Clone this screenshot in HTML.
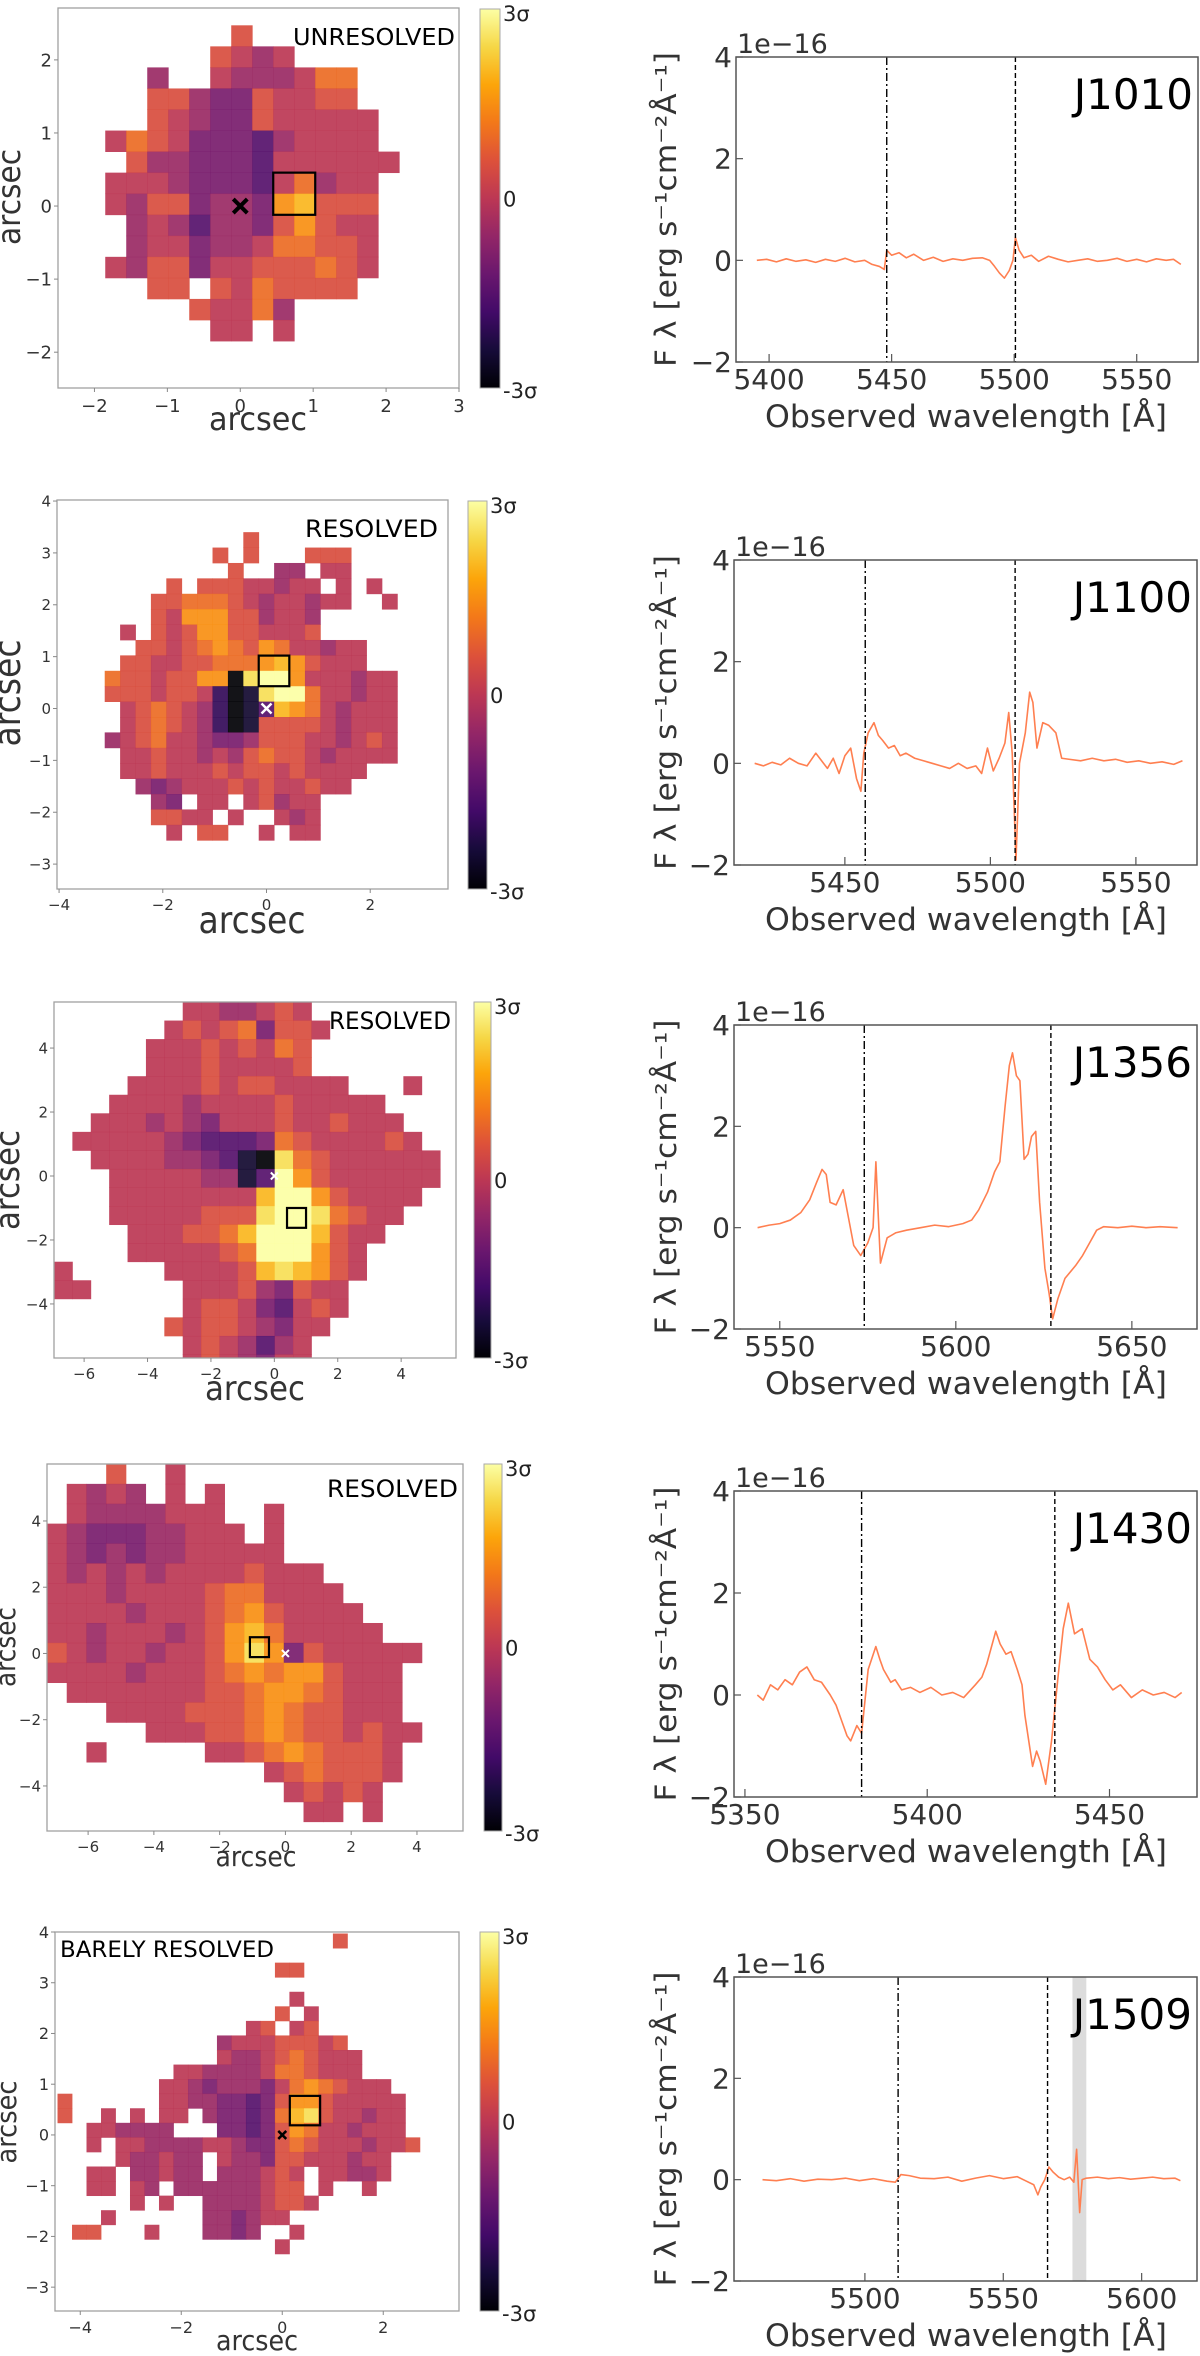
<!DOCTYPE html>
<html><head><meta charset="utf-8"><title>Residual maps and spectra</title>
<style>
html,body{margin:0;padding:0;background:#fff;}
svg{display:block;font-family:"DejaVu Sans","Liberation Sans",sans-serif;}
</style></head>
<body>
<svg id="fig" width="1200" height="2356" viewBox="0 0 1200 2356" xmlns="http://www.w3.org/2000/svg">
<defs>
<linearGradient id="cbgrad" x1="0" y1="1" x2="0" y2="0">
<stop offset="0" stop-color="#000004"/><stop offset="0.1" stop-color="#160b39"/><stop offset="0.2" stop-color="#420a68"/><stop offset="0.3" stop-color="#6a176e"/><stop offset="0.4" stop-color="#932667"/><stop offset="0.5" stop-color="#bc3754"/><stop offset="0.6" stop-color="#dd513a"/><stop offset="0.7" stop-color="#f37819"/><stop offset="0.8" stop-color="#fca50a"/><stop offset="0.9" stop-color="#f6d746"/><stop offset="1" stop-color="#fcffa4"/>
</linearGradient>
</defs>
</svg>
<script>
// ---------- heatmap data (A=-3σ ... G=0 ... M=+3σ, '.'=no data) ----------
const grid1010 = [
"......H........",
".....HGFG......",
"..F..GFFFGII...",
"..HHFEEHGGHH...",
"..HGFEEHGGGGG..",
"GIHGEEEDFGGGG..",
".HFFEEEDGGGGGG.",
"GGGFEEEDGIFGG..",
"GFHHEFFEJKHHH..",
".FGFDFFEHJHGG..",
".FGGEFFGIIHHG..",
"GFHHEGGHHHIHG..",
"..HH.HGIHHHH...",
"....HGGIF......",
".....GG.G......"];
const grid1100 = [
".........H.........",
".......H.H...HHH...",
"........H..FF.GG...",
"....H.HHHGGFGG.G.G.",
"...HHIIIHGFGGFGG..G",
"...HGJJJHHFGGF.....",
".G.HGHJJHHGGGH.....",
"..HHGHIJIHJIGGFGG..",
".HHGGHHIIIJKJHGGG..",
"IHHGHHJJALMMJGGGFGG",
"HHHGHHGCABLMMIGGFGG",
".GHIHGFCABDKJIGFGGG",
".GHIHGFCABHHHHGFGGG",
"FGHIGGFEEFHHHGGFGHG",
".GGHGGFGFHIHHGFGGGG",
".GGHGGGHGHHGHGGGG..",
"..FEFGGGHGHGGHGG...",
"...FE.GG.GHFGG.....",
"...HHGG.G..GFG.....",
"....G.HH..G.GG....."];
const grid1356 = [
".......GGFFGHG........",
"......GHGHIEHHG.......",
".....GGGHGHGIH........",
".....GGGHGGGGH........",
"....GGGGHGHHGGGG...G..",
"...GGGGFGGGGHGGGGG....",
"..GGGFGFEGGGHGGHGGG...",
".GGGGGFEDDDEIHGGGGHG..",
"..GGGGFFEDBALIHGGGGGG.",
"...GGGGGFFBDMJHGGGGGG.",
"...GGGGGGGGKMMJHGGGG..",
"...GGGGGHHHLMMLIHGG...",
"....GGGHHIKMMMKHGG....",
"....GGGGGHIMMMJHG.....",
"G.....GGGGHKLKJHG.....",
"GG.....GGGHFEHGG......",
".......GHHGEDGHG......",
"......HGHHGFEGG.......",
".......GHGFDFG........",
".......GHGFEGG........"];
const grid1430 = [
"...H..G...............",
".GFGF.G.G.............",
".GFFFFGGG..G..........",
"GFEEEFFGGG.G..........",
"GFEFEFFGGGGG..........",
"GFGFGFGGGGHGGG........",
"GGGFGGGGHIIGGGG.......",
"GGGGFGGGHIJHGGGG......",
"GGFGGGFGHJKIGGGGG.....",
"HGFGGFGGHJLJEHGGGGG...",
"GGGGFGGGHIJIJJHGGG....",
".GGGGGGGHHIJJIHGGG....",
"...GGGGHHHIJIHHGGG....",
".....GGGHHIJIHHGHGG...",
"..G.....GGHIJIHHHG....",
"...........GHIHHHG....",
"............GHGHG.....",
".............GG.G....."];
const grid1509 = [
"...................H......",
"..........................",
"...............HH.........",
"..........................",
"................G.........",
"...............H.G........",
".............GH.GH........",
"...........FGGGHHHGH......",
"...........GFFGHIHGGG.....",
"........GGFFFFGIIHGGG.....",
".......GGFEFFFEGIJIHGGG...",
"H......GGFFEEDEHJJHGGGGG..",
"H..G.G.GG.FEEDEIKLHGGFGG..",
"..GGFFFF...EEDEHJIGGFGGG..",
"..G.GGFFFFGGFEEHIHGGGFGGH.",
"....GFFGFF.GFFEHHGGGFGG...",
"..GG.FFGFF.FFFGHG.GGFFG...",
"..GG.GF.FFFFFFGHH.G..G....",
".....G.G..FFFFGHHG........",
"...G......FFEFGG..........",
".HH...G...FFEF..G.........",
"...............G.........."];
// ---------- spectra data (flux in 1e-16 erg/s/cm2/Å) ----------
const waves1010 = [5395,5399,5403,5407,5411,5415,5419,5423,5427,5431,5435,5439,5442,5445,5447,5448,5450,5453,5456,5459,5463,5467,5471,5475,5479,5483,5487,5490,5492,5494,5496,5498,5499.5,5500.5,5502,5504,5507,5510,5514,5518,5522,5526,5530,5534,5538,5542,5546,5550,5554,5558,5562,5565,5568];
const flux1010 = [0,0.02,-0.03,0.03,-0.02,0.01,-0.04,0.02,-0.02,0.04,-0.03,0.0,-0.08,-0.12,-0.18,0.2,0.1,0.15,0.05,0.12,0.0,0.06,-0.02,0.03,0.0,0.04,0.05,0.0,-0.12,-0.25,-0.35,-0.2,0.0,0.45,0.2,0.05,0.1,-0.02,0.08,0.02,-0.03,0.0,0.03,-0.02,0.0,0.04,-0.02,0.02,-0.03,0.03,0.0,0.02,-0.08];
const waves1100 = [5419,5422,5425,5428,5431,5434,5437,5440,5442,5444,5446,5448,5450,5452,5454,5455.5,5456.5,5458,5460,5461.5,5463,5465,5467,5469,5471,5474,5477,5480,5483,5486,5489,5492,5495,5497,5499,5501,5503,5505,5506.3,5507.5,5508.8,5510,5512,5513.5,5514.6,5516,5518,5520,5522.5,5524.5,5527,5531,5535,5539,5543,5547,5551,5555,5559,5563,5566];
const flux1100 = [0.0,-0.05,0.02,-0.03,0.1,0.0,-0.05,0.2,0.05,-0.1,0.1,-0.2,0.15,0.3,-0.3,-0.55,0.2,0.6,0.8,0.55,0.45,0.3,0.35,0.15,0.2,0.1,0.05,0.0,-0.05,-0.1,0.0,-0.1,-0.05,-0.2,0.3,-0.15,0.1,0.4,1.0,0.2,-1.9,0.0,0.6,1.4,1.2,0.3,0.8,0.75,0.6,0.1,0.08,0.05,0.1,0.05,0.08,0.02,0.05,0.0,0.03,-0.02,0.05];
const waves1356 = [5543.7,5547,5550,5553,5556,5558.5,5560.5,5562,5563.2,5564.3,5566,5568,5569.5,5571,5573,5575,5576.5,5577.3,5578,5578.6,5580.5,5583,5586,5590,5594,5598,5602,5604.5,5606.5,5609,5611,5612.5,5614,5615.2,5616.1,5617.2,5618.2,5619.4,5620.5,5621.5,5622.7,5623.8,5625.3,5626.5,5627.5,5629,5631,5634,5636,5638,5640,5642,5646,5650,5654,5658,5663];
const flux1356 = [0.0,0.05,0.08,0.15,0.3,0.55,0.9,1.15,1.05,0.5,0.45,0.75,0.2,-0.35,-0.55,-0.3,0.0,1.3,0.2,-0.7,-0.2,-0.1,-0.05,0.0,0.05,0.02,0.08,0.15,0.35,0.7,1.1,1.3,2.4,3.2,3.45,3.0,2.9,1.35,1.45,1.8,1.9,0.5,-0.8,-1.3,-1.8,-1.4,-1.0,-0.75,-0.55,-0.3,-0.05,0.02,0.0,0.03,0.0,0.02,0.0];
const waves1430 = [5353.4,5355,5357,5359,5361,5363,5365,5367,5369,5371,5373.4,5375,5376.5,5378,5379,5380.7,5382,5382.8,5383.8,5385.9,5387,5388,5390,5391.2,5393,5395.4,5398,5401,5404,5407,5410,5413.2,5415,5416.3,5418.8,5420,5421.6,5423,5424.7,5426,5426.8,5428.9,5430,5431,5432.5,5434.1,5435.8,5437.3,5438.7,5440.4,5442.5,5444.6,5446.7,5448.8,5450.9,5453,5456,5459,5462,5465,5468,5469.8];
const flux1430 = [0.0,-0.1,0.2,0.1,0.3,0.2,0.45,0.55,0.3,0.25,0.0,-0.2,-0.5,-0.8,-0.9,-0.6,-0.75,-0.2,0.5,0.95,0.7,0.5,0.25,0.3,0.1,0.15,0.05,0.15,0.0,0.05,-0.05,0.2,0.35,0.6,1.25,1.0,0.8,0.85,0.5,0.2,-0.4,-1.4,-1.1,-1.3,-1.75,-0.9,0.3,1.3,1.8,1.2,1.3,0.7,0.55,0.3,0.1,0.2,-0.05,0.1,0.0,0.05,-0.05,0.05];
const waves1509 = [5463,5468,5473,5478,5483,5488,5493,5498,5503,5508,5511,5513,5516,5520,5525,5530,5535,5540,5545,5550,5555,5558,5561,5562.5,5563.5,5565,5566.5,5568,5570,5572,5574,5575.5,5576.5,5577.6,5578.5,5580,5584,5588,5592,5596,5600,5604,5608,5612,5614];
const flux1509 = [0.0,-0.02,0.02,-0.03,0.01,0.0,0.03,-0.02,0.02,-0.03,-0.05,0.1,0.08,0.03,0.02,0.05,-0.03,0.03,0.08,0.02,0.06,-0.02,-0.1,-0.3,-0.15,0.0,0.25,0.15,0.05,0.0,0.05,-0.05,0.6,-0.65,0.0,0.03,0.05,0.02,0.04,0.01,0.03,0.05,0.02,0.03,-0.02];
// tick labels
const specYTicks = [-2,0,2,4];
const ticksX1010 = [5400,5450,5500,5550];
const ticksX1100 = [5450,5500,5550];
const ticksX1356 = [5550,5600,5650];
const ticksX1430 = [5350,5400,5450];
const ticksX1509 = [5500,5550,5600];
const lines1010 = [5448,5500.5];
const lines1100 = [5457,5508.5];
const lines1356 = [5574,5627];
const lines1430 = [5382,5435];
const lines1509 = [5512,5566];
const band1509 = [5575,5580];

const NS = "http://www.w3.org/2000/svg";
const svg = document.getElementById('fig');
function el(tag, attrs, parent){
  const e = document.createElementNS(NS, tag);
  for (const k in attrs) e.setAttribute(k, attrs[k]);
  (parent||svg).appendChild(e);
  return e;
}
const INF = ["#000004","#160b39","#420a68","#6a176e","#932667","#bc3754","#dd513a","#f37819","#fca50a","#f6d746","#fcffa4"];
function hex(c){return [parseInt(c.substr(1,2),16),parseInt(c.substr(3,2),16),parseInt(c.substr(5,2),16)];}
function inferno(t){
  t = Math.max(0, Math.min(1, t));
  const p = t*10, i = Math.min(9, Math.floor(p)), f = p - i;
  const a = hex(INF[i]), b = hex(INF[i+1]);
  return "rgb(" + a.map((v,k)=>Math.round(v+(b[k]-v)*f)).join(",") + ")";
}
function charVal(c){ return (c.charCodeAt(0) - 71) * 0.5; } // 'G' -> 0
function fmt(v){ return (v<0? "\u2212"+Math.abs(v) : ""+v); }

function drawMap(cfg, grid, xticks, yticks){
  const g = el('g', {});
  
  
  const sx = v => cfg.left + (v - cfg.xmin)/(cfg.xmax - cfg.xmin)*(cfg.right - cfg.left);
  const sy = v => cfg.top + (cfg.ymax - v)/(cfg.ymax - cfg.ymin)*(cfg.bottom - cfg.top);
  const cp = el('clipPath', {id: 'clip-' + cfg.id}, g);
  el('rect', {x: cfg.left, y: cfg.top, width: cfg.right-cfg.left, height: cfg.bottom-cfg.top}, cp);
  const cells = el('g', {'clip-path': 'url(#clip-' + cfg.id + ')'}, g);
  
  
  grid.forEach((row, j) => {
    for (let i = 0; i < row.length; i++) {
      const c = row[i];
      if (c === '.') continue;
      const x1 = sx(cfg.x0 + i*cfg.cell), x2 = sx(cfg.x0 + (i+1)*cfg.cell);
      const y1 = sy(cfg.y0 - j*cfg.cell), y2 = sy(cfg.y0 - (j+1)*cfg.cell);
      const r = el('rect', {x: x1.toFixed(2), y: y1.toFixed(2), width: (x2-x1+0.4).toFixed(2), height: (y2-y1+0.4).toFixed(2), fill: inferno((charVal(c)+3)/6), 'fill-opacity': 0.92}, cells);
      
      
    }
  });
  // frame
  const fr = el('rect', {x: cfg.left, y: cfg.top, width: cfg.right-cfg.left, height: cfg.bottom-cfg.top, fill: 'none', stroke: '#a0a0a0', 'stroke-width': 1.3}, g);
  
  
  // ticks
  xticks.forEach(v => {
    const x = sx(v);
    el('line', {x1: x, x2: x, y1: cfg.bottom, y2: cfg.bottom+4, stroke: '#888', 'stroke-width': 1}, g);
    const t = el('text', {x: x, y: cfg.bottom + 6 + cfg.tfs, 'font-size': cfg.tfs, 'text-anchor': 'middle', fill: '#333'}, g);
    
    
    t.textContent = fmt(v);
  });
  yticks.forEach(v => {
    const y = sy(v);
    el('line', {x1: cfg.left-4, x2: cfg.left, y1: y, y2: y, stroke: '#888', 'stroke-width': 1}, g);
    const t = el('text', {x: cfg.left - 6, y: y + cfg.tfs*0.36, 'font-size': cfg.tfs, 'text-anchor': 'end', fill: '#333'}, g);
    
    
    t.textContent = fmt(v);
  });
  // axis labels
  const xl = el('text', {x: cfg.xlx, y: cfg.xly, 'font-size': cfg.lfs, 'text-anchor': 'middle', fill: '#333', textLength: cfg.xlw, lengthAdjust: 'spacingAndGlyphs'}, g);
  
  
  xl.textContent = 'arcsec';
  const yl = el('text', {x: 0, y: 0, 'font-size': cfg.lfs, 'text-anchor': 'middle', fill: '#333', textLength: cfg.ylw, lengthAdjust: 'spacingAndGlyphs', transform: 'translate(' + cfg.ylx + ',' + cfg.yly + ') rotate(-90)'}, g);
  
  
  yl.textContent = 'arcsec';
  // status label
  const st = el('text', {x: cfg.stx, y: cfg.sty, 'font-size': cfg.sfs, fill: '#000', textLength: cfg.stw, lengthAdjust: 'spacingAndGlyphs'}, g);
  
  
  st.textContent = cfg.status;
  // extraction box
  const bx = el('rect', {x: sx(cfg.box[0]), y: sy(cfg.box[3]), width: sx(cfg.box[1]) - sx(cfg.box[0]), height: sy(cfg.box[2]) - sy(cfg.box[3]), fill: 'none', stroke: '#000', 'stroke-width': 2.2}, g);
  
  
  // marker
  const mx = sx(0), my = sy(0), ms = cfg.ms;
  const mk = el('g', {stroke: cfg.mc, 'stroke-width': cfg.mw, 'stroke-linecap': 'butt'}, g);
  
  
  el('line', {x1: mx-ms, y1: my-ms, x2: mx+ms, y2: my+ms}, mk);
  el('line', {x1: mx-ms, y1: my+ms, x2: mx+ms, y2: my-ms}, mk);
  // colorbar
  const cb = el('g', {}, g);
  
  
  el('rect', {x: cfg.cb[0], y: cfg.top + cfg.cbt, width: cfg.cb[1]-cfg.cb[0], height: cfg.bottom - cfg.top - cfg.cbt, fill: 'url(#cbgrad)', stroke: '#aaa', 'stroke-width': 1}, cb);
  const cbTop = cfg.top + cfg.cbt, cbMid = (cbTop + cfg.bottom)/2;
  [['3σ', cbTop + 12], ['0', cbMid + 8], ['-3σ', cfg.bottom + 10]].forEach(p => {
    const t = el('text', {x: cfg.cb[1] + 3, y: p[1], 'font-size': 21, fill: '#222'}, cb);
    
    
    t.textContent = p[0];
  });
}

function drawSpec(cfg, waves, flux, xticks, vlines, band){
  const g = el('g', {});
  
  
  const sx = w => cfg.left + (w - cfg.xmin)/(cfg.xmax - cfg.xmin)*(cfg.right - cfg.left);
  const sy = f => cfg.top + (4 - f)/6*(cfg.bottom - cfg.top);
  if (band) {
    const b = el('rect', {x: sx(band[0]), y: cfg.top, width: sx(band[1]) - sx(band[0]), height: cfg.bottom - cfg.top, fill: '#dcdcdc'}, g);
    
    
  }
  const n = Math.min(waves.length, flux.length);
  let d = '';
  for (let i = 0; i < n; i++) d += (i ? 'L' : 'M') + sx(waves[i]).toFixed(2) + ',' + sy(flux[i]).toFixed(2);
  const p = el('path', {d: d, fill: 'none', stroke: '#ff7f50', 'stroke-width': 1.6, 'stroke-linejoin': 'round'}, g);
  
  
  vlines.forEach((w, k) => {
    const l = el('line', {x1: sx(w), x2: sx(w), y1: cfg.top, y2: cfg.bottom, stroke: '#000', 'stroke-width': 1.4, 'stroke-dasharray': k === 0 ? '8,3,2,3' : '5,3'}, g);
    
    
  });
  const fr = el('rect', {x: cfg.left, y: cfg.top, width: cfg.right - cfg.left, height: cfg.bottom - cfg.top, fill: 'none', stroke: '#555', 'stroke-width': 1.5}, g);
  
  
  xticks.forEach(w => {
    const x = sx(w);
    el('line', {x1: x, x2: x, y1: cfg.bottom, y2: cfg.bottom - 8, stroke: '#555', 'stroke-width': 1.2}, g);
    const t = el('text', {x: x, y: cfg.bottom + 27, 'font-size': 28, 'text-anchor': 'middle', fill: '#333'}, g);
    
    
    t.textContent = w;
  });
  specYTicks.forEach(v => {
    const y = sy(v);
    el('line', {x1: cfg.left, x2: cfg.left + 7, y1: y, y2: y, stroke: '#555', 'stroke-width': 1.2}, g);
    const t = el('text', {x: cfg.left - 4, y: y + 10, 'font-size': 28, 'text-anchor': 'end', fill: '#333'}, g);
    
    
    t.textContent = fmt(v);
  });
  const off = el('text', {x: cfg.left + 1, y: cfg.top - 4, 'font-size': 27, fill: '#333'}, g);
  
  
  off.textContent = '1e\u221216';
  const nm = el('text', {x: cfg.right - 5, y: cfg.top + 52, 'font-size': 42, 'text-anchor': 'end', fill: '#000'}, g);
  
  
  nm.textContent = cfg.name;
  const xl = el('text', {x: 966, y: cfg.bottom + 65, 'font-size': 31, 'text-anchor': 'middle', fill: '#333', textLength: 402, lengthAdjust: 'spacingAndGlyphs'}, g);
  
  
  xl.textContent = 'Observed wavelength [Å]';
  const cy = (cfg.top + cfg.bottom)/2;
  const yl = el('text', {x: 0, y: 0, 'font-size': 29, 'text-anchor': 'middle', fill: '#333', textLength: 315, lengthAdjust: 'spacingAndGlyphs', transform: 'translate(676,' + cy + ') rotate(-90)'}, g);
  
  
  yl.textContent = 'F \u03bb [erg s\u207b\u00b9cm\u207b\u00b2Å\u207b\u00b9]';
}

// ----- maps -----
drawMap({id:'j1010', left:58, right:459, top:8, bottom:388, xmin:-2.5, xmax:3.0, ymin:-2.49, ymax:2.71,
  x0:-1.852, y0:2.473, cell:0.288, tfs:18, lfs:32, xlx:258, xly:430, xlw:98, ylx:20, yly:197, ylw:96,
  status:'UNRESOLVED', stx:293, sty:45, sfs:23, stw:162, box:[0.452,1.028,-0.12,0.457], ms:7, mw:4, mc:'#000',
  cb:[480,500], cbt:1}, grid1010, [-2,-1,0,1,2,3], [-2,-1,0,1,2]);
drawMap({id:'j1100', left:57, right:448, top:500, bottom:889, xmin:-4.04, xmax:3.5, ymin:-3.48, ymax:4.02,
  x0:-3.12, y0:3.40, cell:0.297, tfs:15, lfs:37, xlx:252, xly:933, xlw:107, ylx:20, yly:693, ylw:107,
  status:'RESOLVED', stx:305, sty:537, sfs:24, stw:133, box:[-0.15,0.44,0.43,1.02], ms:5, mw:2.5, mc:'#fff',
  cb:[468,487], cbt:1}, grid1100, [-4,-2,0,2], [-3,-2,-1,0,1,2,3,4]);
drawMap({id:'j1356', left:54, right:456, top:1002, bottom:1358, xmin:-6.95, xmax:5.73, ymin:-5.69, ymax:5.44,
  x0:-6.95, y0:5.44, cell:0.58, tfs:15, lfs:34, xlx:255, xly:1400, xlw:100, ylx:19, yly:1180, ylw:100,
  status:'RESOLVED', stx:329, sty:1029, sfs:24, stw:122, box:[0.40,1.0,-1.62,-1.0], ms:3.5, mw:2, mc:'#fff',
  cb:[474,491], cbt:0}, grid1356, [-6,-4,-2,0,2,4], [-4,-2,0,2,4]);
drawMap({id:'j1430', left:47, right:463, top:1464, bottom:1831, xmin:-7.25, xmax:5.4, ymin:-5.36, ymax:5.72,
  x0:-7.25, y0:5.72, cell:0.6, tfs:15, lfs:28, xlx:256, xly:1866, xlw:81, ylx:15, yly:1647, ylw:80,
  status:'RESOLVED', stx:327, sty:1497, sfs:24, stw:131, box:[-1.08,-0.50,-0.11,0.49], ms:3.5, mw:2, mc:'#fff',
  cb:[484,502], cbt:0}, grid1430, [-6,-4,-2,0,2,4], [-4,-2,0,2,4]);
drawMap({id:'j1509', left:55, right:459, top:1932, bottom:2311, xmin:-4.5, xmax:3.5, ymin:-3.47, ymax:4.0,
  x0:-4.45, y0:3.97, cell:0.287, tfs:16, lfs:28, xlx:257, xly:2350, xlw:82, ylx:16, yly:2122, ylw:83,
  status:'BARELY RESOLVED', stx:60, sty:1957, sfs:22, stw:214, box:[0.15,0.75,0.19,0.77], ms:4, mw:2.5, mc:'#000',
  cb:[480,499], cbt:0}, grid1509, [-4,-2,0,2], [-3,-2,-1,0,1,2,3,4]);

// ----- spectra -----
drawSpec({name:'J1010', left:736, right:1198, top:57, bottom:362, xmin:5386.5, xmax:5575}, waves1010, flux1010, ticksX1010, lines1010, null);
drawSpec({name:'J1100', left:734, right:1197, top:560, bottom:865, xmin:5411.9, xmax:5571}, waves1100, flux1100, ticksX1100, lines1100, null);
drawSpec({name:'J1356', left:734, right:1197, top:1025, bottom:1329, xmin:5537, xmax:5668.5}, waves1356, flux1356, ticksX1356, lines1356, null);
drawSpec({name:'J1430', left:734, right:1197, top:1491, bottom:1797, xmin:5347, xmax:5474}, waves1430, flux1430, ticksX1430, lines1430, null);
drawSpec({name:'J1509', left:734, right:1197, top:1977, bottom:2281, xmin:5452.7, xmax:5620}, waves1509, flux1509, ticksX1509, lines1509, band1509);
</script>
</body></html>
